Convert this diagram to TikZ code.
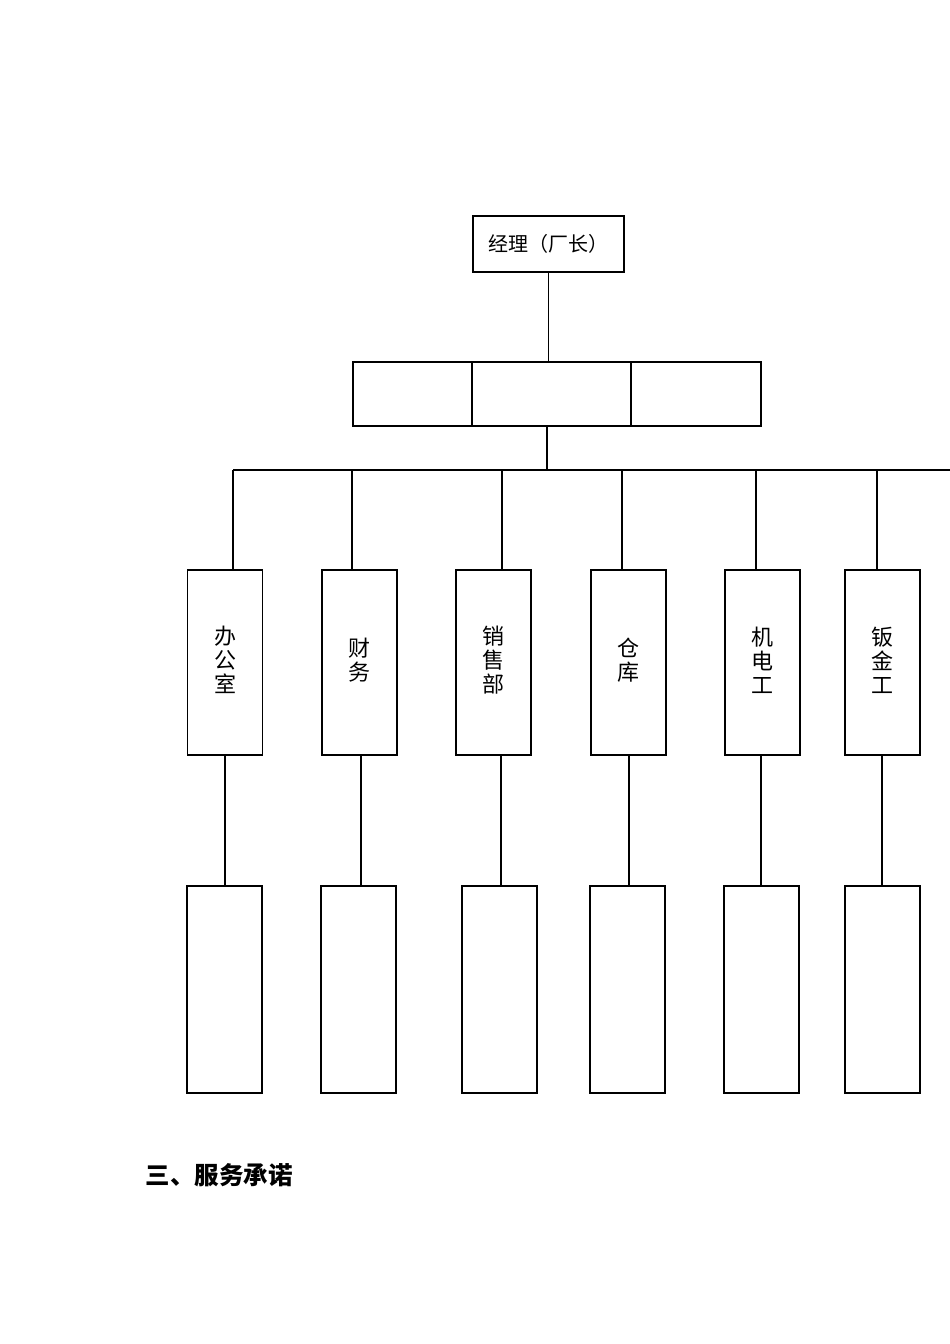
\documentclass[tikz,border=0pt]{standalone}
\usepackage{fontspec}
\newfontfamily\cjk{Noto Sans CJK SC}
\begin{document}
\begin{tikzpicture}[x=1pt,y=-1pt,line width=1.2pt,
  bx/.style={draw,inner sep=0pt,font=\cjk\fontsize{20}{22}\selectfont}]
\useasboundingbox (0,0) rectangle (950,1344);
\node[bx,minimum width=151pt,minimum height=56pt] (top) at (548.5,244) {经理（厂长）};
\node[draw,minimum width=408pt,minimum height=64pt] (row) at (557,394) {};
\draw (472,362) -- (472,426) (631,362) -- (631,426);
\coordinate (bus) at (547,470);
\draw (top.south) -- (row.north -| top.south);
\draw (row.south -| bus) -- (bus);
\draw (233,470) -- (950,470);
\foreach \n/\cx/\vx/\lx/\bx/\t in {a/225/233/225/224.5/{办\\公\\室},b/359.5/352/361/358.5/{财\\务},c/493.5/502/501/499.5/{销\\售\\部},d/628.5/622/629/627.5/{仓\\库},e/762.5/756/761/761.5/{机\\电\\工},f/882.5/877/882/882.5/{钣\\金\\工}}{
  \node[draw,minimum width=75pt,minimum height=185pt] (m\n) at (\cx,662.5) {};
  \node[font=\cjk\fontsize{22}{24}\selectfont,align=center] (t\n) at (\cx,660) {\t};
  \coordinate (v\n) at (\vx,470);
  \draw (v\n) -- (v\n |- m\n.north);
  \node[draw,minimum width=75pt,minimum height=207pt] (l\n) at (\bx,989.5) {};
  \draw (\lx,755) -- (l\n.north -| \lx,755);
}
\node[anchor=west,inner sep=0pt,font=\cjk\bfseries\fontsize{24.5}{26}\selectfont] (h) at (145,1175) {三、服务承诺};
\end{tikzpicture}
\end{document}
